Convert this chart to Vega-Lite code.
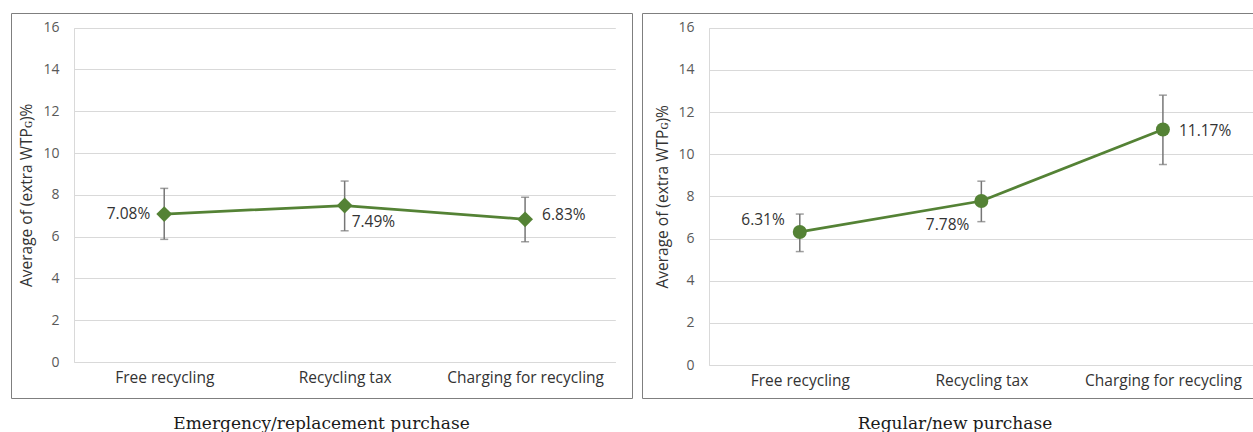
{
  "$schema": "https://vega.github.io/schema/vega-lite/v6.json",
  "padding": {"left": 10, "top": 12, "right": 0, "bottom": 0},
  "spacing": 8,
  "config": {
    "locale": {"number": {"decimal": ".", "thousands": ",", "grouping": [3], "currency": ["", "%"]}},
    "view": {"stroke": "#7f7f7f", "strokeWidth": 1},
    "axis": {
      "grid": false,
      "ticks": false,
      "tickSize": 0,
      "domainColor": "#d9d9d9",
      "domainWidth": 1,
      "labelFont": "Open Sans",
      "titleFont": "Open Sans",
      "titleFontWeight": "normal"
    },
    "axisX": {"labelFontSize": 15.5, "labelColor": "#333333", "labelPadding": 8, "labelAngle": 0},
    "axisY": {
      "grid": true,
      "gridColor": "#d9d9d9",
      "gridWidth": 1,
      "labelFontSize": 14,
      "labelColor": "#595959",
      "labelPadding": 15,
      "titleFontSize": 15.5,
      "titleColor": "#333333"
    },
    "title": {"font": "DejaVu Serif", "fontSize": 17, "fontWeight": "normal", "color": "#1a1a1a", "orient": "bottom", "anchor": "middle"}
  },
  "datasets": {
    "emergency": [
      {"scheme": "Free recycling", "mean": 7.08, "lower": 5.87, "upper": 8.31},
      {"scheme": "Recycling tax", "mean": 7.49, "lower": 6.28, "upper": 8.66},
      {"scheme": "Charging for recycling", "mean": 6.83, "lower": 5.76, "upper": 7.89}
    ],
    "regular": [
      {"scheme": "Free recycling", "mean": 6.31, "lower": 5.38, "upper": 7.16},
      {"scheme": "Recycling tax", "mean": 7.78, "lower": 6.8, "upper": 8.72},
      {"scheme": "Charging for recycling", "mean": 11.17, "lower": 9.51, "upper": 12.8}
    ]
  },
  "hconcat": [
    {
      "width": 621,
      "height": 385,
      "data": {"name": "emergency"},
      "title": {"text": "Emergency/replacement purchase", "offset": 18},
      "encoding": {
        "x": {
          "field": "scheme", "type": "nominal", "sort": null,
          "scale": {"type": "point", "padding": 0.5, "range": [63, 604.3]},
          "axis": {"title": null, "offset": -36}
        },
        "y": {
          "field": "mean", "type": "quantitative",
          "scale": {"domain": [0, 16], "range": [349, 14.7], "nice": false},
          "axis": {"title": "Average of (extra WTPɢ)%", "values": [0, 2, 4, 6, 8, 10, 12, 14, 16], "offset": -63, "titlePadding": 8}
        }
      },
      "layer": [
        {
          "mark": {"type": "rule", "color": "#767676", "strokeWidth": 1.5},
          "encoding": {"y": {"field": "lower", "type": "quantitative", "title": "Average of (extra WTPɢ)%"}, "y2": {"field": "upper"}}
        },
        {
          "mark": {"type": "tick", "color": "#767676", "size": 8, "thickness": 1.5},
          "encoding": {"y": {"field": "lower", "type": "quantitative", "title": "Average of (extra WTPɢ)%"}}
        },
        {
          "mark": {"type": "tick", "color": "#767676", "size": 8, "thickness": 1.5},
          "encoding": {"y": {"field": "upper", "type": "quantitative", "title": "Average of (extra WTPɢ)%"}}
        },
        {"mark": {"type": "line", "color": "#548235", "strokeWidth": 2.75}},
        {"mark": {"type": "point", "shape": "diamond", "filled": true, "opacity": 1, "size": 250, "color": "#548235"}},
        {
          "transform": [{"filter": "datum.scheme === 'Free recycling'"}],
          "mark": {"type": "text", "align": "right", "baseline": "middle", "dx": -14, "dy": 0, "font": "Open Sans", "fontSize": 15.5, "color": "#333333"},
          "encoding": {"text": {"field": "mean", "type": "quantitative", "format": "$.2f"}}
        },
        {
          "transform": [{"filter": "datum.scheme === 'Recycling tax'"}],
          "mark": {"type": "text", "align": "left", "baseline": "middle", "dx": 7, "dy": 16.5, "font": "Open Sans", "fontSize": 15.5, "color": "#333333"},
          "encoding": {"text": {"field": "mean", "type": "quantitative", "format": "$.2f"}}
        },
        {
          "transform": [{"filter": "datum.scheme === 'Charging for recycling'"}],
          "mark": {"type": "text", "align": "left", "baseline": "middle", "dx": 17, "dy": -4, "font": "Open Sans", "fontSize": 15.5, "color": "#333333"},
          "encoding": {"text": {"field": "mean", "type": "quantitative", "format": "$.2f"}}
        }
      ]
    },
    {
      "width": 614,
      "height": 385,
      "data": {"name": "regular"},
      "title": {"text": "Regular/new purchase", "offset": 18, "dx": 6},
      "encoding": {
        "x": {
          "field": "scheme", "type": "nominal", "sort": null,
          "scale": {"type": "point", "padding": 0.5, "range": [67, 611.7]},
          "axis": {"title": null, "offset": -33}
        },
        "y": {
          "field": "mean", "type": "quantitative",
          "scale": {"domain": [0, 16], "range": [352, 14.7], "nice": false},
          "axis": {"title": "Average of (extra WTPɢ)%", "values": [0, 2, 4, 6, 8, 10, 12, 14, 16], "offset": -67, "titlePadding": 7}
        }
      },
      "layer": [
        {
          "mark": {"type": "rule", "color": "#767676", "strokeWidth": 1.5},
          "encoding": {"y": {"field": "lower", "type": "quantitative", "title": "Average of (extra WTPɢ)%"}, "y2": {"field": "upper"}}
        },
        {
          "mark": {"type": "tick", "color": "#767676", "size": 8, "thickness": 1.5},
          "encoding": {"y": {"field": "lower", "type": "quantitative", "title": "Average of (extra WTPɢ)%"}}
        },
        {
          "mark": {"type": "tick", "color": "#767676", "size": 8, "thickness": 1.5},
          "encoding": {"y": {"field": "upper", "type": "quantitative", "title": "Average of (extra WTPɢ)%"}}
        },
        {"mark": {"type": "line", "color": "#548235", "strokeWidth": 2.75}},
        {"mark": {"type": "point", "shape": "circle", "filled": true, "opacity": 1, "size": 196, "color": "#548235"}},
        {
          "transform": [{"filter": "datum.scheme === 'Free recycling'"}],
          "mark": {"type": "text", "align": "right", "baseline": "middle", "dx": -15, "dy": -12, "font": "Open Sans", "fontSize": 15.5, "color": "#333333"},
          "encoding": {"text": {"field": "mean", "type": "quantitative", "format": "$.2f"}}
        },
        {
          "transform": [{"filter": "datum.scheme === 'Recycling tax'"}],
          "mark": {"type": "text", "align": "right", "baseline": "middle", "dx": -12, "dy": 24, "font": "Open Sans", "fontSize": 15.5, "color": "#333333"},
          "encoding": {"text": {"field": "mean", "type": "quantitative", "format": "$.2f"}}
        },
        {
          "transform": [{"filter": "datum.scheme === 'Charging for recycling'"}],
          "mark": {"type": "text", "align": "left", "baseline": "middle", "dx": 16, "dy": 1, "font": "Open Sans", "fontSize": 15.5, "color": "#333333"},
          "encoding": {"text": {"field": "mean", "type": "quantitative", "format": "$.2f"}}
        }
      ]
    }
  ]
}
